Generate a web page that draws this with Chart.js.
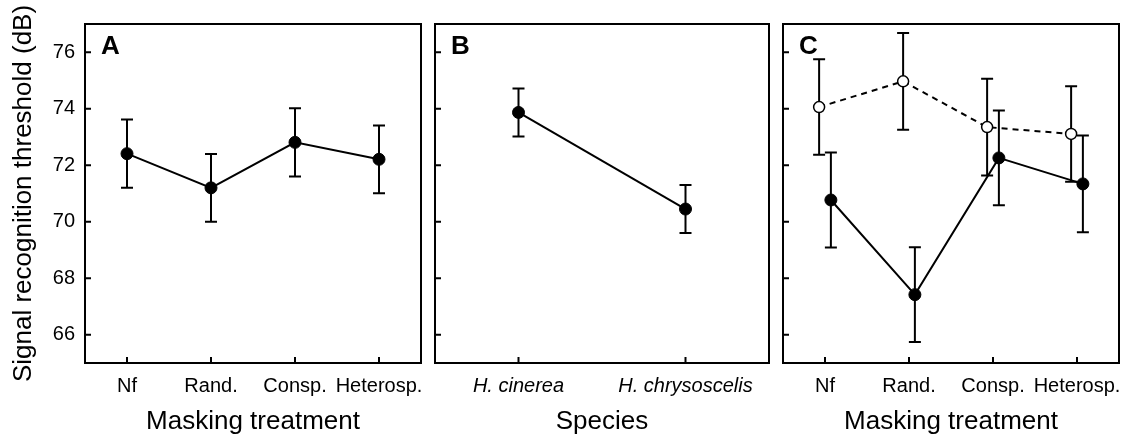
<!DOCTYPE html>
<html>
<head>
<meta charset="utf-8">
<script src="https://cdn.jsdelivr.net/npm/chart.js@4.4.1/dist/chart.umd.min.js"></script>
<style>
  html, body { margin: 0; padding: 0; background: #fff; }
  #wrap { position: relative; width: 1135px; height: 438px; }
  canvas { position: absolute; top: 0; }
</style>
</head>
<body>
<div id="wrap">
  <canvas id="panelA" width="428" height="438" style="left:0px"></canvas>
  <canvas id="panelB" width="348" height="438" style="left:428px"></canvas>
  <canvas id="panelC" width="359" height="438" style="left:776px"></canvas>
</div>
<script>
const treatments = ['Nf', 'Rand.', 'Consp.', 'Heterosp.'];
const species = ['H. cinerea', 'H. chrysoscelis'];
const yTicks = [66, 68, 70, 72, 74, 76];

// panel A: threshold by masking treatment
const meanA = [72.41, 71.2, 72.81, 72.21];
const errA = [1.21, 1.2, 1.21, 1.2];

// panel B: threshold by species
const meanB = [73.87, 70.45];
const errB = [0.85, 0.85];

// panel C: treatment x species (open = dashed, filled = solid)
const meanOpenC = [74.06, 74.97, 73.35, 73.11];
const errOpenC = [1.69, 1.71, 1.71, 1.69];
const meanFilledC = [70.77, 67.42, 72.26, 71.34];
const errFilledC = [1.68, 1.68, 1.68, 1.71];

const FONT = '"Liberation Sans", Arial, sans-serif';
Chart.defaults.font.family = FONT;
Chart.defaults.color = '#000';

// vertical error bars with caps, drawn under the lines and markers
const errorBars = {
  id: 'errorBars',
  beforeDatasetsDraw(chart) {
    const {ctx, scales: {x, y}} = chart;
    ctx.save();
    ctx.strokeStyle = '#000';
    ctx.lineWidth = 2;
    chart.data.datasets.forEach(ds => {
      ds.data.forEach((p, i) => {
        const px = x.getPixelForValue(p.x);
        const hi = y.getPixelForValue(p.y + ds.errors[i]);
        const lo = y.getPixelForValue(p.y - ds.errors[i]);
        ctx.beginPath();
        ctx.moveTo(px, hi); ctx.lineTo(px, lo);
        ctx.moveTo(px - 6, hi); ctx.lineTo(px + 6, hi);
        ctx.moveTo(px - 6, lo); ctx.lineTo(px + 6, lo);
        ctx.stroke();
      });
    });
    ctx.restore();
  }
};

// box around the plot, inward tick marks and the panel letter
const frame = {
  id: 'frame',
  afterDraw(chart, args, opts) {
    const {ctx, chartArea: a, scales: {x, y}} = chart;
    ctx.save();
    ctx.strokeStyle = '#000';
    ctx.lineWidth = 2;
    ctx.strokeRect(a.left, a.top, a.right - a.left, a.bottom - a.top);
    ctx.beginPath();
    y.ticks.forEach(t => {
      const py = y.getPixelForValue(t.value);
      ctx.moveTo(a.left, py); ctx.lineTo(a.left + 6, py);
    });
    x.ticks.forEach(t => {
      const px = x.getPixelForValue(t.value);
      ctx.moveTo(px, a.bottom); ctx.lineTo(px, a.bottom - 6);
    });
    ctx.stroke();
    ctx.font = 'bold 26px ' + FONT;
    ctx.fillStyle = '#000';
    ctx.textBaseline = 'alphabetic';
    ctx.fillText(opts.letter, a.left + 16, a.top + 30);
    ctx.restore();
  }
};

function solidSeries(means, errs, shift) {
  return {
    data: means.map((v, i) => ({x: i + 1 + shift, y: v})),
    errors: errs,
    borderColor: '#000',
    borderWidth: 2,
    pointRadius: 6,
    pointBorderWidth: 1,
    pointBackgroundColor: '#000',
    pointBorderColor: '#000'
  };
}

function openSeries(means, errs, shift) {
  return {
    data: means.map((v, i) => ({x: i + 1 + shift, y: v})),
    errors: errs,
    borderColor: '#000',
    borderWidth: 2,
    borderDash: [6, 5],
    pointRadius: 5.5,
    pointBorderWidth: 1.5,
    pointBackgroundColor: '#fff',
    pointBorderColor: '#000'
  };
}

function makePanel(id, o) {
  return new Chart(document.getElementById(id), {
    type: 'line',
    data: {datasets: o.datasets},
    options: {
      responsive: false,
      animation: false,
      layout: {padding: {top: 24, right: o.padRight, left: 0, bottom: 0}},
      plugins: {
        legend: {display: false},
        tooltip: {enabled: false},
        frame: {letter: o.letter}
      },
      scales: {
        x: {
          type: 'linear',
          min: 0.5,
          max: o.labels.length + 0.5,
          afterBuildTicks: s => { s.ticks = o.labels.map((_, i) => ({value: i + 1})); },
          afterFit: s => {
            s.height = 75;
            // labels fit inside the box, no extra side room needed
            s.paddingLeft = 0;
            s.paddingRight = 0;
          },
          grid: {display: false, drawTicks: false},
          border: {display: false},
          ticks: {
            autoSkip: false,
            maxRotation: 0,
            padding: 11,
            color: '#000',
            font: {size: 20, style: o.italic ? 'italic' : 'normal'},
            callback: v => o.labels[v - 1]
          },
          title: {
            display: true,
            text: o.xTitle,
            color: '#000',
            font: {size: 26},
            padding: {top: 0, bottom: 1}
          }
        },
        y: {
          min: 65,
          max: 77,
          afterBuildTicks: s => { s.ticks = yTicks.map(v => ({value: v})); },
          afterFit: s => {
            s.width = o.axisWidth;
            s.paddingTop = 0;
            s.paddingBottom = 0;
          },
          grid: {display: false, drawTicks: false},
          border: {display: false},
          ticks: {display: o.showY, padding: 10, color: '#000', font: {size: 20}},
          title: {
            display: o.showY,
            text: 'Signal recognition threshold (dB)',
            color: '#000',
            font: {size: 26},
            padding: {top: 8, bottom: 0}
          }
        }
      }
    },
    plugins: [errorBars, frame]
  });
}

makePanel('panelA', {
  letter: 'A', labels: treatments, xTitle: 'Masking treatment',
  axisWidth: 85, padRight: 5, showY: true,
  datasets: [solidSeries(meanA, errA, 0)]
});

makePanel('panelB', {
  letter: 'B', labels: species, xTitle: 'Species', italic: true,
  axisWidth: 4, padRight: 7, showY: false,
  datasets: [solidSeries(meanB, errB, 0)]
});

makePanel('panelC', {
  letter: 'C', labels: treatments, xTitle: 'Masking treatment',
  axisWidth: 4, padRight: 16, showY: false,
  datasets: [openSeries(meanOpenC, errOpenC, -0.07), solidSeries(meanFilledC, errFilledC, 0.07)]
});
</script>
</body>
</html>
